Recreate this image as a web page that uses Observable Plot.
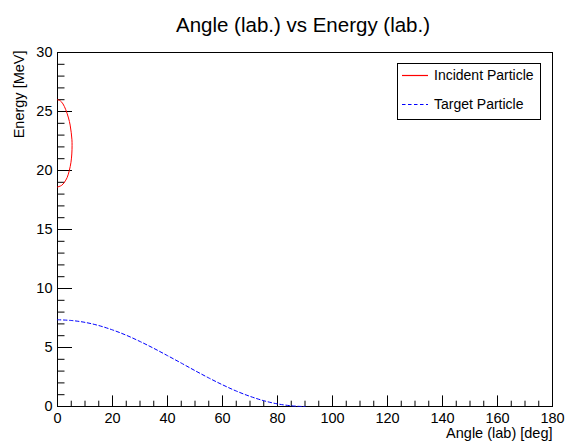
<!DOCTYPE html>
<html>
<head>
<meta charset="utf-8">
<script src="https://cdn.jsdelivr.net/npm/d3@7"></script>
<script src="https://cdn.jsdelivr.net/npm/@observablehq/plot@0.6"></script>
<style>
  html, body { margin: 0; padding: 0; background: #fff; }
  #wrap { position: relative; width: 568px; height: 441px; font-family: "Liberation Sans", Arial, Helvetica, sans-serif; }
  #legend { position: absolute; left: 397px; top: 63px; width: 142px; height: 55px; border: 1px solid #000; background: #fff; box-sizing: content-box; }
  #legend .row { position: absolute; left: 0; height: 16px; display: flex; align-items: center; font-size: 14px; color: #000; white-space: nowrap; }
  #legend svg { display: block; margin-left: 4px; margin-right: 6px; }
</style>
</head>
<body>
<div id="wrap"></div>
<script>
// ---- data ----
const incidentAngle = [0, 1.0, 2.0, 3.0, 4.0, 4.6, 5.0, 5.25, 5.3, 5.2, 4.9, 4.3, 3.5, 2.5, 1.5, 0];
const incidentEnergy = [26.0, 25.91, 25.64, 25.15, 24.45, 23.85, 23.2, 22.6, 22.1, 21.4, 20.7, 20.0, 19.4, 19.0, 18.74, 18.6];

const targetAngle = [0, 5, 10, 15, 20, 25, 30, 35, 40, 45, 50, 55, 60, 65, 70, 75, 80, 85, 88, 90];
const targetEnergy = [7.35, 7.29, 7.13, 6.86, 6.49, 6.04, 5.51, 4.93, 4.31, 3.68, 3.04, 2.42, 1.84, 1.31, 0.86, 0.49, 0.22, 0.06, 0.01, 0];

const xMajorTicks = [0, 20, 40, 60, 80, 100, 120, 140, 160, 180];
const xMinorTicks = d3.range(0, 181, 5);
const yMajorTicks = [0, 5, 10, 15, 20, 25, 30];
const yMinorTicks = d3.range(0, 31, 1);

const seriesNames = ["Incident Particle", "Target Particle"];
const seriesColors = ["#ff0000", "#0000ff"];
const titleText = "Angle (lab.) vs Energy (lab.)";
const xLabel = "Angle (lab) [deg]";
const yLabel = "Energy [MeV]";

// ---- build tables ----
const incident = incidentAngle.map((a, i) => ({angle: a, energy: incidentEnergy[i]}));
const target = targetAngle.map((a, i) => ({angle: a, energy: targetEnergy[i]}));

const W = 568, H = 441;
const mL = 57, mR = 16, mT = 52, mB = 35;
const plotW = W - mL - mR, plotH = H - mT - mB;
const font = "'Liberation Sans', Arial, Helvetica, sans-serif";
const dash = "3.5,2.5";

const chart = Plot.plot({
  width: W,
  height: H,
  marginLeft: mL,
  marginRight: mR,
  marginTop: mT,
  marginBottom: mB,
  style: {fontFamily: font, fontSize: "14.5px", color: "#000", background: "#fff", overflow: "visible"},
  x: {domain: [0, 180]},
  y: {domain: [0, 30]},
  marks: [
    Plot.frame({stroke: "#000", strokeWidth: 1}),
    Plot.ruleX(xMinorTicks, {x: d => d, stroke: "#000", insetTop: plotH - 5.3}),
    Plot.ruleX(xMajorTicks, {x: d => d, stroke: "#000", insetTop: plotH - 10.6}),
    Plot.ruleY(yMinorTicks, {y: d => d, stroke: "#000", insetRight: plotW - 7.5}),
    Plot.ruleY(yMajorTicks, {y: d => d, stroke: "#000", insetRight: plotW - 15}),
    Plot.axisX({ticks: xMajorTicks, tickSize: 0, tickPadding: 6, label: null, fontSize: 14.5}),
    Plot.axisY({ticks: yMajorTicks, tickSize: 0, tickPadding: 5, label: null, fontSize: 14.5}),
    Plot.line(target, {x: "angle", y: "energy", stroke: seriesColors[1], strokeWidth: 1, strokeDasharray: dash, curve: "catmull-rom"}),
    Plot.line(incident, {x: "angle", y: "energy", stroke: seriesColors[0], strokeWidth: 1, curve: "catmull-rom"}),
    Plot.text([titleText], {text: d => d, frameAnchor: "top", dx: -2, dy: -21, lineAnchor: "bottom", fontSize: 20.5, fill: "#000"}),
    Plot.text([xLabel], {text: d => d, frameAnchor: "bottom-right", dy: 31, textAnchor: "end", lineAnchor: "bottom", fontSize: 14.5, fill: "#000"}),
    Plot.text([yLabel], {text: d => d, frameAnchor: "top-left", dx: -43.5, dy: -2, rotate: -90, textAnchor: "end", fontSize: 14.5, fill: "#000"})
  ]
});

const wrap = document.getElementById("wrap");
wrap.appendChild(chart);

// legend
const legend = document.createElement("div");
legend.id = "legend";
const rowTops = [3, 32];
seriesNames.forEach((name, i) => {
  const row = document.createElement("div");
  row.className = "row";
  row.style.top = rowTops[i] + "px";
  const dashAttr = i === 1 ? ` stroke-dasharray="${dash}"` : "";
  row.innerHTML = `<svg xmlns="http://www.w3.org/2000/svg" width="26" height="16"><line x1="0" x2="26" y1="8.5" y2="8.5" style="stroke:${seriesColors[i]};stroke-width:1.2"${dashAttr}/></svg><span></span>`;
  row.querySelector("span").textContent = name;
  legend.appendChild(row);
});
wrap.appendChild(legend);
</script>
</body>
</html>
